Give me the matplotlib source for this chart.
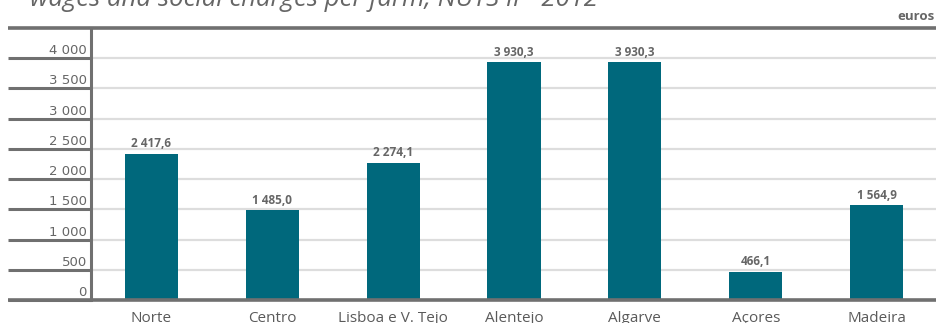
import matplotlib.pyplot as plt

regions = ['Norte', 'Centro', 'Lisboa e V. Tejo', 'Alentejo', 'Algarve', 'Açores', 'Madeira']
wages = [2417.6, 1485.0, 2274.1, 3930.3, 3930.3, 466.1, 1564.9]
yticks = [0, 500, 1000, 1500, 2000, 2500, 3000, 3500, 4000]

bar_color = '#00687c'
dark = '#707070'
text_gray = '#5a5a5a'


def fmt(v, dec=1):
    s = f'{v:,.{dec}f}'
    return s.replace(',', ' ').replace('.', ',')


plt.rcParams['font.family'] = ['Open Sans', 'DejaVu Sans']

fig = plt.figure(figsize=(9.37, 3.23), dpi=100)
ax = fig.add_axes([91 / 937, 23 / 323, 846 / 937, 272 / 323])

x = range(len(regions))
ax.bar(x, wages, width=0.44, color=bar_color, zorder=3)

ax.set_xlim(-0.5, len(regions) - 0.5)
ax.set_ylim(0, 4500)

# light grid inside, dark stubs to the left with the labels sitting on them
for t in yticks[1:]:
    ax.axhline(t, color='#dddddd', lw=1.6, zorder=1)
for t in yticks:
    ax.plot([-0.098, 0], [t, t], color=dark, lw=2.2,
            transform=ax.get_yaxis_transform(), clip_on=False, solid_capstyle='butt')
    ax.text(-0.005, t + 66, fmt(t, 0), transform=ax.get_yaxis_transform(),
            ha='right', va='baseline', fontsize=9.5, color='#666666',
            family='DejaVu Sans')

# top rule and baseline
ax.plot([-0.098, 1], [4500, 4500], color=dark, lw=2.6,
        transform=ax.get_yaxis_transform(), clip_on=False, solid_capstyle='butt')
ax.plot([-0.098, 1], [0, 0], color=dark, lw=2.6,
        transform=ax.get_yaxis_transform(), clip_on=False, solid_capstyle='butt', zorder=4)

for s in ['top', 'right', 'bottom']:
    ax.spines[s].set_visible(False)
ax.spines['left'].set_color(dark)
ax.spines['left'].set_linewidth(2.2)

ax.set_yticks([])
ax.set_xticks(list(x))
ax.set_xticklabels(regions, fontsize=11, color=text_gray)
ax.tick_params(axis='x', length=0, pad=8)

for i, v in enumerate(wages):
    ax.text(i, v + 60, fmt(v), ha='center', va='bottom',
            fontsize=8.5, fontweight='bold', color='#666666')

fig.text(935 / 937, 1 - 17 / 323, 'euros', ha='right', va='center',
         fontsize=9.5, fontweight='bold', color='#666666')
fig.text(30 / 937, 1 - 6 / 323, 'wages and social charges per farm, NUTS II - 2012',
         ha='left', va='baseline', fontsize=18.5, style='italic', color='#666666')

fig.savefig('out.png', dpi=100)
